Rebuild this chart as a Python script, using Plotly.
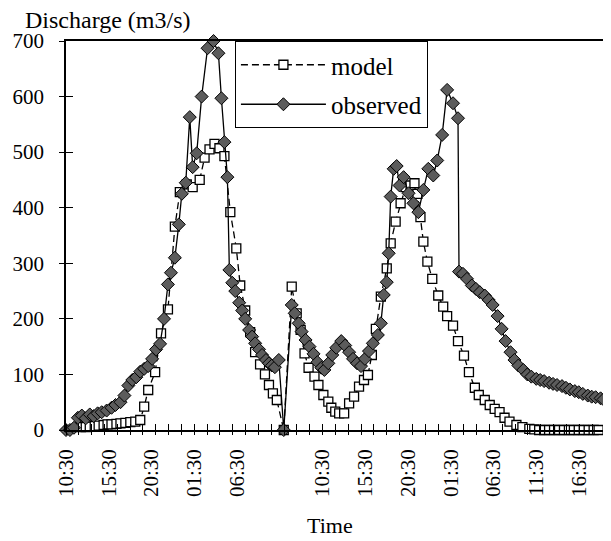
import plotly.graph_objects as go

# ---- data (time in hours from first 10:30 label, discharge m3/s)
obs_time = [0.00, 0.46, 0.93, 1.39, 1.85, 2.31, 2.78, 3.24, 3.70, 4.17, 4.75, 5.32, 5.79, 6.37, 6.83,
            7.29, 7.75, 8.22, 8.68, 9.14, 9.61, 10.07, 10.53, 11.00, 11.46, 11.92, 12.27, 12.73, 13.19,
            13.54, 14.00, 14.47, 14.81, 15.28, 15.86, 16.55, 17.25, 17.82, 18.17, 18.52, 18.87, 19.10,
            19.44, 19.79, 20.25, 20.60, 20.95, 21.41, 21.76, 22.11, 22.57, 22.92, 23.38, 23.73, 24.07,
            24.42, 24.88, 25.46,
            26.39, 26.74, 27.20, 27.55, 28.01, 28.47, 28.94, 29.40, 29.86, 30.21, 30.67, 31.13, 31.60,
            32.18, 32.64, 33.10, 33.56, 34.03, 34.49, 34.95, 35.42, 35.88, 36.46, 36.81, 37.15, 37.50,
            37.73, 37.96, 38.31, 38.66, 39.00, 39.47, 40.05, 40.62, 41.20, 41.78, 42.36, 42.94, 43.40,
            43.98, 44.56, 45.25, 45.83, 45.95, 46.41, 46.88, 47.45, 47.92, 48.38, 48.96, 49.42, 49.88,
            50.46, 50.93, 51.39, 51.97, 52.43, 52.89, 53.47, 53.94, 54.40, 54.98, 55.44, 55.90, 56.48,
            56.94, 57.41, 57.99, 58.45, 58.91, 59.49, 59.95, 60.42, 61.00, 61.46, 61.92, 62.50, 62.85]
obs_q = [0, 0, 4, 22, 26, 21, 28, 25, 30, 32, 35, 40, 45, 50, 62,
         80, 90, 95, 105, 110, 115, 128, 145, 155, 200, 262, 283, 310, 370,
         425, 445, 563, 473, 498, 600, 687, 700, 678, 597, 518, 455, 288,
         265, 250, 229, 215, 200, 180, 168, 156, 145, 135, 126, 120, 116,
         113, 126, 0,
         225, 210, 192, 177, 162, 150, 137, 122, 112, 108, 120, 135, 148,
         160, 152, 140, 128, 120, 115, 128, 142, 156, 171, 192, 243, 266,
         318, 420, 470, 475, 440, 455, 426, 408, 392, 432, 470, 458, 485,
         531, 612, 588, 561, 285, 281, 272, 260, 254, 248, 242, 234, 225,
         205, 182, 160, 140, 126, 116, 108, 100, 96, 92, 90, 88, 85,
         83, 81, 79, 76, 73, 70, 68, 65, 62, 60, 59, 57, 55]

model_time = [1.74, 2.31, 2.78, 3.36, 3.82, 4.40, 4.86, 5.32, 5.90, 6.37, 6.94, 7.52, 8.10, 8.68,
              9.14, 9.61, 10.42, 11.11, 11.92, 12.73, 13.31, 14.12, 14.81, 15.63, 16.20, 16.78,
              17.36, 17.94, 18.52, 19.21, 19.91, 20.37, 20.95, 21.53, 22.11, 22.69, 23.26, 23.73,
              24.19, 24.65, 25.46,
              26.39, 26.97, 27.43, 27.89, 28.36, 29.05, 29.51, 30.09, 30.67, 31.02, 31.48, 31.94,
              32.52, 33.10, 33.68, 34.26, 34.84, 35.30, 35.76, 36.23, 36.81, 37.50, 37.96, 38.54,
              39.12, 39.70, 40.28, 40.74, 41.09, 41.44, 41.78, 42.25, 42.82, 43.52, 44.10, 44.56,
              45.25, 45.83, 46.53, 47.11, 47.80, 48.26, 48.96, 49.54, 50.12, 50.69, 51.27, 51.85,
              52.66, 53.36, 54.17, 54.75, 55.32, 55.90, 56.48, 57.06, 57.64, 58.22, 58.80, 59.38,
              59.95, 60.53, 61.11, 61.69, 62.27]
model_q = [5, 5, 6, 7, 8, 9, 10, 10, 11, 12, 13, 14, 15, 18,
           42, 72, 104, 174, 217, 366, 428, 442, 437, 450, 490, 505,
           515, 507, 493, 392, 327, 260, 215, 176, 140, 118, 100, 81,
           66, 54, 0,
           258, 210, 180, 138, 112, 96, 81, 63, 51, 40, 33, 30,
           30, 48, 60, 78, 90, 99, 135, 182, 240, 291, 336, 375,
           408, 437, 440, 444, 425, 383, 339, 303, 272, 242, 222, 205,
           188, 160, 134, 104, 76, 63, 54, 45, 38, 32, 22, 15,
           9, 5, 2, 1, 0, 0, 0, 0, 0, 0, 0, 0,
           0, 0, 0, 0, 0]

tick_vals = [0, 5, 10, 15, 20, 30, 35, 40, 45, 50, 55, 60]
tick_text = ["10:30", "15:30", "20:30", "01:30", "06:30", "10:30", "15:30",
             "20:30", "01:30", "06:30", "11:30", "16:30"]
y_ticks = [0, 100, 200, 300, 400, 500, 600, 700]

X_RANGE = [0, 62.9]
Y_RANGE = [0, 700]
FONT = "Liberation Serif, Times New Roman, serif"

fig = go.Figure()
fig.add_trace(go.Scatter(
    x=model_time, y=model_q, name="model", mode="lines+markers",
    line=dict(color="black", width=1.3, dash="7px,4px"),
    marker=dict(symbol="square", size=9, color="white", line=dict(color="black", width=1.3)),
    cliponaxis=False, legendgroup="m"))
fig.add_trace(go.Scatter(
    x=obs_time, y=obs_q, name="observed", mode="lines+markers",
    line=dict(color="black", width=1.3),
    marker=dict(symbol="diamond", size=10, color="#5c5c5c", line=dict(color="black", width=1)),
    cliponaxis=False, legendgroup="o"))

# page body has an 8px default margin: figure is sized/offset to land on the window
fig.update_layout(
    width=603, height=533,
    margin=dict(l=54, r=5, t=33, b=111),
    paper_bgcolor="white", plot_bgcolor="white",
    font=dict(family=FONT, size=20, color="black"),
    showlegend=True,
    legend=dict(x=0.314, y=1.0, xanchor="left", yanchor="top",
                bgcolor="white", bordercolor="black", borderwidth=1,
                font=dict(size=25, family=FONT), itemwidth=85,
                tracegroupgap=4, traceorder="grouped"),
    xaxis=dict(range=X_RANGE, tickmode="array", tickvals=tick_vals, ticktext=tick_text,
               tickangle=-90, ticks="", showgrid=False, zeroline=False,
               showline=True, linecolor="black", linewidth=1.5, mirror=True,
               tickfont=dict(size=21), ticklabelstandoff=9,
               minor=dict(tickmode="linear", tick0=0, dtick=1.5, ticks="inside",
                          ticklen=6, tickcolor="black", showgrid=False)),
    xaxis2=dict(range=X_RANGE, overlaying="x", anchor="y", side="bottom",
                tickmode="linear", tick0=0, dtick=1.5, ticks="outside", ticklen=4,
                tickcolor="black", showticklabels=False, showgrid=False,
                zeroline=False, showline=False),
    yaxis=dict(range=Y_RANGE, tickmode="array", tickvals=y_ticks, ticks="outside",
               ticklen=5, tickcolor="black", showgrid=False, zeroline=False,
               showline=True, linecolor="black", linewidth=1.5, mirror=True,
               tickfont=dict(size=21), ticklabelstandoff=11),
    yaxis2=dict(range=Y_RANGE, overlaying="y", anchor="x", side="left",
                tickmode="array", tickvals=y_ticks, ticks="inside", ticklen=7,
                tickcolor="black", showticklabels=False, showgrid=False,
                zeroline=False, showline=False),
    annotations=[
        dict(text="Discharge (m3/s)", xref="paper", yref="paper", x=-0.079, y=1.054,
             xanchor="left", yanchor="middle", showarrow=False, font=dict(size=24)),
        dict(text="Time", xref="paper", yref="paper", x=0.491, y=-0.245,
             xanchor="center", yanchor="middle", showarrow=False, font=dict(size=22)),
    ],
)
fig.add_trace(go.Scatter(x=[], y=[], xaxis="x2", yaxis="y2", showlegend=False, hoverinfo="skip"))

fig.write_html("out.html")
